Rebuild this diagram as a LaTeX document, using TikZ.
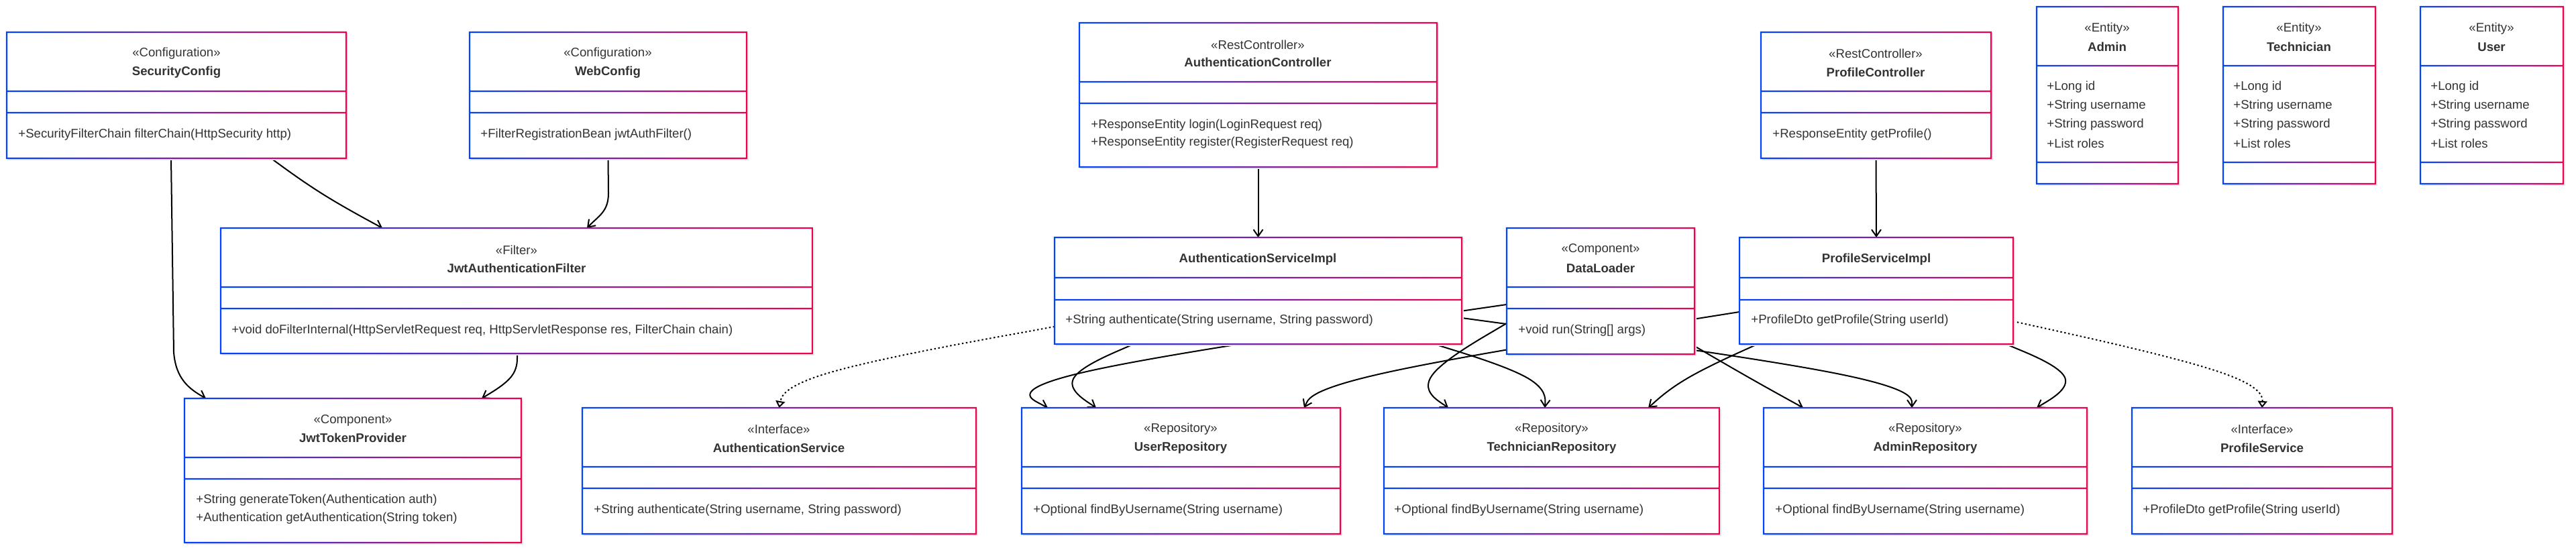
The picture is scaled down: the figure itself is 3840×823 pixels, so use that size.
\documentclass[tikz,border=0pt]{standalone}
\usepackage{fontspec}
\setmainfont{Liberation Sans}
\usetikzlibrary{arrows.meta,fit,calc}
\pgfdeclarelayer{edges}
\pgfsetlayers{edges,main}
\definecolor{umlblue}{HTML}{0044FF}
\definecolor{umlred}{HTML}{F00050}
\definecolor{txt}{HTML}{333333}
\definecolor{shadowc}{HTML}{E8E8E8}
\tikzset{
  ttl/.style={font=\fontsize{9.3}{11}\selectfont, text=txt, inner sep=0pt, anchor=center},
  nm/.style={font=\fontsize{9.3}{11}\selectfont\bfseries, text=txt, inner sep=0pt, anchor=center},
  mem/.style={font=\fontsize{9.3}{11}\selectfont, text=txt, inner sep=0pt, anchor=west},
  dep/.style={line width=1pt, -{Straight Barb[length=5pt,width=7pt,line width=1pt]}},
  realz/.style={line width=1pt, dash pattern=on 1.2pt off 1.8pt, -{Triangle[open,length=5pt,width=7pt,line width=1pt]}},
}
\newcommand\umlbox[7]{%
  \fill[shadowc] (#2+1.5,#3+1.5) rectangle (#4+3,#5+3);
  \fill[white] (#2,#3) rectangle (#4,#5);
  \shade[left color=umlblue,right color=umlred,even odd rule]
    (#2-1.2,#3-1.2) rectangle (#4+1.2,#5+1.2)
    (#2+1.2,#3+1.2) rectangle (#4-1.2,#6-1.2)
    (#2+1.2,#6+1.2) rectangle (#4-1.2,#7-1.2)
    (#2+1.2,#7+1.2) rectangle (#4-1.2,#5-1.2);
  \node[inner sep=0pt,outer sep=0pt,fit={(#2,#3)(#4,#5)}] (#1) {};
}
% B-spline edge through start, one bend point, end (as a d3 basis curve)
\newcommand\bedge[4]{%
  \draw[#1] (#2) -- ($0.83333*(#2)+0.16667*#3$)
    .. controls ($0.66667*(#2)+0.33333*#3$) and ($0.33333*(#2)+0.66667*#3$)
    .. ($0.16667*(#2)+0.66667*#3+0.16667*(#4)$)
    .. controls ($0.66667*#3+0.33333*(#4)$) and ($0.33333*#3+0.66667*(#4)$)
    .. ($0.16667*#3+0.83333*(#4)$) -- (#4);
}
\begin{document}
\begin{tikzpicture}[x=0.5pt,y=-0.5pt]
\useasboundingbox (0,0) rectangle (3840,823);
% boxes
\umlbox{SC}{10}{48}{516}{236}{136}{168}
\node[ttl] (SCs) at (263,80) {«Configuration»};
\node[nm] (SCn) at (263,108) {SecurityConfig};
\node[mem] (SCm) at (27,201) {+SecurityFilterChain filterChain(HttpSecurity http)};

\umlbox{WC}{700}{48}{1113}{236}{136}{168}
\node[ttl] (WCs) at (906,80) {«Configuration»};
\node[nm] (WCn) at (906,108) {WebConfig};
\node[mem] (WCm) at (716,201) {+FilterRegistrationBean jwtAuthFilter()};

\umlbox{AC}{1609}{34}{2142}{249}{122}{154}
\node[ttl] (ACs) at (1875,67) {«RestController»};
\node[nm] (ACn) at (1875,93) {AuthenticationController};
\node[mem] (ACm1) at (1626,187) {+ResponseEntity login(LoginRequest req)};
\node[mem] (ACm2) at (1626,213) {+ResponseEntity register(RegisterRequest req)};

\umlbox{PC}{2625}{48}{2968}{236}{136}{168}
\node[ttl] (PCs) at (2796,80) {«RestController»};
\node[nm] (PCn) at (2796,108) {ProfileController};
\node[mem] (PCm) at (2642,201) {+ResponseEntity getProfile()};

\umlbox{EA}{3036}{10}{3247}{274}{98}{242}
\node[ttl] (EAs) at (3141,43) {«Entity»};
\node[nm] (EAn) at (3141,70) {Admin};
\node[mem] (EAa1) at (3051,130) {+Long id};
\node[mem] (EAa2) at (3051,158) {+String username};
\node[mem] (EAa3) at (3051,186) {+String password};
\node[mem] (EAa4) at (3051,214) {+List roles};

\umlbox{ET}{3314}{10}{3541}{274}{98}{242}
\node[ttl] (ETs) at (3427,43) {«Entity»};
\node[nm] (ETn) at (3427,70) {Technician};
\node[mem] (ETa1) at (3329,130) {+Long id};
\node[mem] (ETa2) at (3329,158) {+String username};
\node[mem] (ETa3) at (3329,186) {+String password};
\node[mem] (ETa4) at (3329,214) {+List roles};

\umlbox{EU}{3608}{10}{3821}{274}{98}{242}
\node[ttl] (EUs) at (3714,43) {«Entity»};
\node[nm] (EUn) at (3714,70) {User};
\node[mem] (EUa1) at (3623,130) {+Long id};
\node[mem] (EUa2) at (3623,158) {+String username};
\node[mem] (EUa3) at (3623,186) {+String password};
\node[mem] (EUa4) at (3623,214) {+List roles};

\umlbox{JAF}{329}{340}{1211}{527}{428}{460}
\node[ttl] (JAFs) at (770,373) {«Filter»};
\node[nm] (JAFn) at (770,400) {JwtAuthenticationFilter};
\node[mem] (JAFm) at (345,493) {+void doFilterInternal(HttpServletRequest req, HttpServletResponse res, FilterChain chain)};

\umlbox{ASI}{1572}{354}{2179}{513}{414}{447}
\node[nm] (ASIn) at (1875,387) {AuthenticationServiceImpl};
\node[mem] (ASIm) at (1588,478) {+String authenticate(String username, String password)};

\umlbox{DL}{2246}{340}{2526}{528}{428}{460}
\node[ttl] (DLs) at (2386,372) {«Component»};
\node[nm] (DLn) at (2386,400) {DataLoader};
\node[mem] (DLm) at (2263,493) {+void run(String[] args)};

\umlbox{PSI}{2593}{354}{3001}{513}{414}{447}
\node[nm] (PSIn) at (2797,387) {ProfileServiceImpl};
\node[mem] (PSIm) at (2610,478) {+ProfileDto getProfile(String userId)};

\umlbox{JTP}{275}{594}{777}{809}{682}{714}
\node[ttl] (JTPs) at (526,627) {«Component»};
\node[nm] (JTPn) at (526,653) {JwtTokenProvider};
\node[mem] (JTPm1) at (292,746) {+String generateToken(Authentication auth)};
\node[mem] (JTPm2) at (292,773) {+Authentication getAuthentication(String token)};

\umlbox{AS}{868}{608}{1455}{796}{696}{728}
\node[ttl] (ASs) at (1161,640) {«Interface»};
\node[nm] (ASn) at (1161,668) {AuthenticationService};
\node[mem] (ASm) at (885,761) {+String authenticate(String username, String password)};

\umlbox{UR}{1523}{608}{1998}{796}{696}{728}
\node[ttl] (URs) at (1760,640) {«Repository»};
\node[nm] (URn) at (1760,668) {UserRepository};
\node[mem] (URm) at (1540,761) {+Optional findByUsername(String username)};

\umlbox{TR}{2063}{608}{2563}{796}{696}{728}
\node[ttl] (TRs) at (2313,640) {«Repository»};
\node[nm] (TRn) at (2313,668) {TechnicianRepository};
\node[mem] (TRm) at (2078,761) {+Optional findByUsername(String username)};

\umlbox{AR}{2629}{608}{3111}{796}{696}{728}
\node[ttl] (ARs) at (2870,640) {«Repository»};
\node[nm] (ARn) at (2870,668) {AdminRepository};
\node[mem] (ARm) at (2646,761) {+Optional findByUsername(String username)};

\umlbox{PS}{3178}{608}{3566}{796}{696}{728}
\node[ttl] (PSs) at (3372,640) {«Interface»};
\node[nm] (PSn) at (3372,668) {ProfileService};
\node[mem] (PSm) at (3194,761) {+ProfileDto getProfile(String userId)};

% connector end points
\coordinate (e1s) at ($(SC.south west)+(394,0)$);
\coordinate (e1e) at ($(JAF.north west)+(241,0)$);
\coordinate (e2e) at ($(JAF.north west)+(546,0)$);
\coordinate (e3s) at ($(SC.south west)+(245,0)$);
\coordinate (e3e) at ($(JTP.north west)+(32,0)$);
\coordinate (e4s) at ($(JAF.south west)+(442,0)$);
\coordinate (e4e) at ($(JTP.north west)+(443,0)$);
\coordinate (e7s) at ($(ASI.north west)+(0,133)$);
\coordinate (e8s) at ($(PSI.north east)+(0,125)$);
\coordinate (e9s) at ($(DL.north west)+(0,114)$);
\coordinate (e9e) at ($(UR.north west)+(39,0)$);
\coordinate (e10s) at ($(ASI.south west)+(118,0)$);
\coordinate (e10e) at ($(UR.north west)+(111,0)$);
\coordinate (e11s) at ($(PSI.north west)+(0,111)$);
\coordinate (e11e) at ($(UR.north west)+(421,0)$);
\coordinate (e12s) at ($(DL.north west)+(0,142)$);
\coordinate (e12e) at ($(TR.north west)+(96,0)$);
\coordinate (e13s) at ($(ASI.south west)+(566,0)$);
\coordinate (e13e) at ($(TR.north west)+(240,0)$);
\coordinate (e14s) at ($(PSI.south west)+(27,0)$);
\coordinate (e14e) at ($(TR.north west)+(394,0)$);
\coordinate (e15s) at ($(ASI.north east)+(0,120)$);
\coordinate (e15e) at ($(AR.north west)+(221,0)$);
\coordinate (e16s) at ($(DL.north east)+(0,176)$);
\coordinate (e16e) at ($(AR.north west)+(59,0)$);
\coordinate (e17s) at ($(PSI.south west)+(397,0)$);
\coordinate (e17e) at ($(AR.north west)+(407,0)$);

% connectors
\begin{pgfonlayer}{edges}
\bedge{dep}{e1s}{(478,290)}{e1e}
\draw[dep] (WC.south) -- (907,288) .. controls (907,316) and (892,322) .. (e2e);
\draw[dep] (e3s) -- (259,525) .. controls (262,565) and (282,580) .. (e3e);
\bedge{dep}{e4s}{(771,562)}{e4e}
\draw[dep] (AC.south) -- (ASI.north);
\draw[dep] (PC.south) -- (PSI.north);
\bedge{realz}{e7s}{(1170,560)}{AS.north}
\bedge{realz}{e8s}{(3375,562)}{PS.north}
\bedge{dep}{e9s}{(1480,565)}{e9e}
\bedge{dep}{e10s}{(1570,565)}{e10e}
\bedge{dep}{e11s}{(1965,565)}{e11e}
\bedge{dep}{e12s}{(2100,568)}{e12e}
\bedge{dep}{e13s}{(2305,565)}{e13e}
\bedge{dep}{e14s}{(2505,565)}{e14e}
\bedge{dep}{e15s}{(2850,565)}{e15e}
\bedge{dep}{e16s}{(2610,565)}{e16e}
\bedge{dep}{e17s}{(3110,563)}{e17e}
\end{pgfonlayer}
\end{tikzpicture}
\end{document}
